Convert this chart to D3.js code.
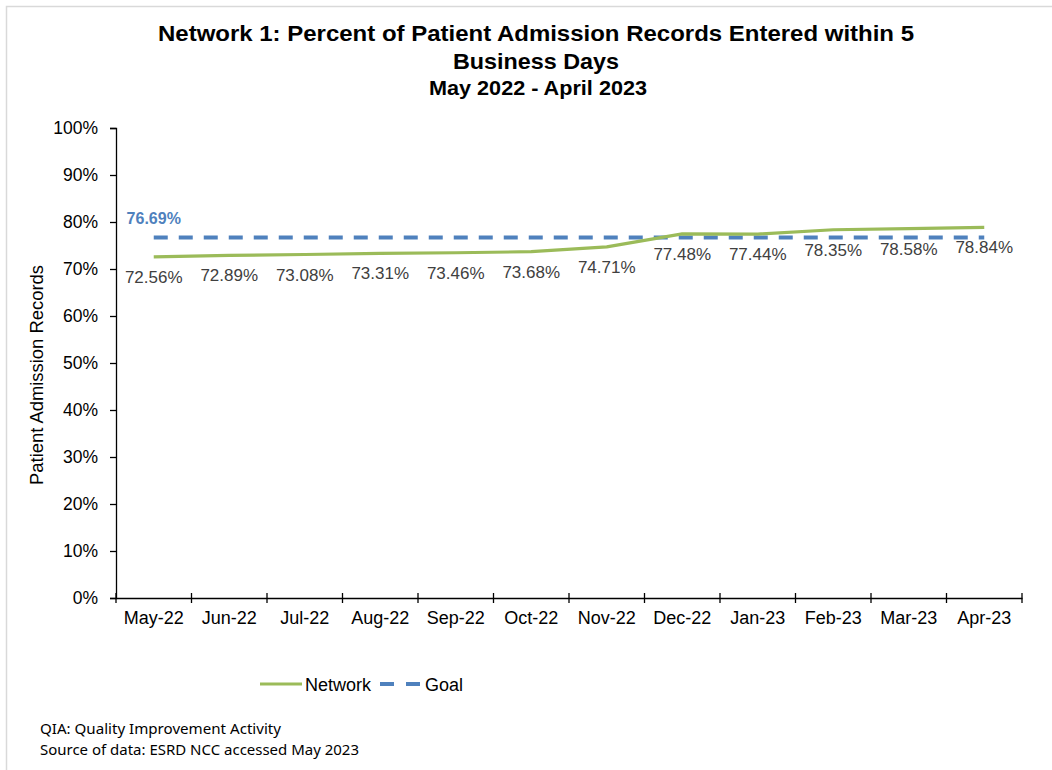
<!DOCTYPE html>
<html>
<head>
<meta charset="utf-8">
<script src="https://cdn.jsdelivr.net/npm/d3@7"></script>
<style>
  html, body { margin: 0; padding: 0; background: #fff; }
  svg { display: block; }
</style>
</head>
<body>
<svg id="chart" width="1052" height="770"></svg>
<script>
const months = ["May-22","Jun-22","Jul-22","Aug-22","Sep-22","Oct-22","Nov-22","Dec-22","Jan-23","Feb-23","Mar-23","Apr-23"];
const networkValues = [72.56, 72.89, 73.08, 73.31, 73.46, 73.68, 74.71, 77.48, 77.44, 78.35, 78.58, 78.84];
const goalValue = 76.69;
const yTicks = [0,10,20,30,40,50,60,70,80,90,100];
const titleLines = ["Network 1: Percent of Patient Admission Records Entered within 5", "Business Days", "May 2022 - April 2023"];
const yAxisTitle = "Patient Admission Records";
const footnotes = ["QIA:  Quality Improvement Activity", "Source of data:  ESRD NCC accessed May 2023"];
const legendItems = ["Network", "Goal"];

const svg = d3.select("#chart");
const green = "#9BBB59", blue = "#4F81BD";
const font = "'Liberation Sans', Arial, sans-serif";

// border
svg.append("rect").attr("x", 6.5).attr("y", 6.5).attr("width", 1100).attr("height", 800)
  .attr("fill", "none").attr("stroke", "#d9d9d9").attr("stroke-width", 1.5);

const m = {left: 116, right: 1022, top: 128, bottom: 598};
const x = d3.scaleBand().domain(months).range([m.left, m.right]);
const y = d3.scaleLinear().domain([0, 100]).range([m.bottom, m.top]);

// title
const tl = svg.append("g").attr("font-family", font).attr("font-weight", "bold").attr("fill", "#000").attr("text-anchor", "middle");
tl.append("text").attr("x", 536).attr("y", 41).attr("font-size", 22).attr("textLength", 756).attr("lengthAdjust", "spacingAndGlyphs").text(titleLines[0]);
tl.append("text").attr("x", 536).attr("y", 69).attr("font-size", 22).attr("textLength", 166).attr("lengthAdjust", "spacingAndGlyphs").text(titleLines[1]);
tl.append("text").attr("x", 538).attr("y", 95).attr("font-size", 21).attr("textLength", 218).attr("lengthAdjust", "spacingAndGlyphs").text(titleLines[2]);

// y axis
const yAxisG = svg.append("g").attr("transform", `translate(${m.left},0)`);
yAxisG.call(d3.axisLeft(y).tickValues(d3.range(0, 101, 2)).tickSize(4).tickFormat(""));
yAxisG.call(d3.axisLeft(y).tickValues(yTicks).tickSize(6).tickPadding(12).tickFormat(d => d + "%"));
yAxisG.selectAll(".domain").attr("stroke", "#000").attr("stroke-width", 1.3);
yAxisG.selectAll(".tick line").attr("stroke", "#000").attr("stroke-width", 1.3);
yAxisG.selectAll(".tick text").attr("font-family", font).attr("font-size", 17.5).attr("fill", "#000");

// x axis
const xAxisG = svg.append("g").attr("transform", `translate(0,${m.bottom})`);
xAxisG.call(d3.axisBottom(x).tickSize(0).tickPadding(13));
xAxisG.selectAll(".domain").attr("stroke", "#000").attr("stroke-width", 1.3);
xAxisG.selectAll(".tick text").attr("font-family", font).attr("font-size", 18).attr("fill", "#000");
const bounds = months.map(mo => x(mo)).concat([x.range()[1]]);
xAxisG.selectAll("line.bt").data(bounds).enter().append("line")
  .attr("x1", d => d).attr("x2", d => d).attr("y1", -5).attr("y2", 5)
  .attr("stroke", "#000").attr("stroke-width", 1.3);

// y axis title
svg.append("text").attr("transform", "translate(43,375) rotate(-90)")
  .attr("text-anchor", "middle").attr("font-family", font).attr("font-size", 17.5)
  .attr("textLength", 220).attr("lengthAdjust", "spacingAndGlyphs")
  .text(yAxisTitle);

const cx = d => x(d) + x.bandwidth() / 2;

// goal line
svg.append("line")
  .attr("x1", cx(months[0])).attr("x2", cx(months[months.length - 1]))
  .attr("y1", y(goalValue)).attr("y2", y(goalValue))
  .attr("stroke", blue).attr("stroke-width", 4).attr("stroke-dasharray", "14,11");

// network line
const line = d3.line().x((d, i) => cx(months[i])).y(d => y(d));
svg.append("path").datum(networkValues).attr("d", line)
  .attr("fill", "none").attr("stroke", green).attr("stroke-width", 3.2).attr("stroke-linejoin", "round");

// data labels
svg.append("g").selectAll("text").data(networkValues).enter().append("text")
  .attr("x", (d, i) => cx(months[i])).attr("y", d => y(d) + 26)
  .attr("text-anchor", "middle").attr("font-family", font).attr("font-size", 17).attr("fill", "#404040")
  .text(d => d.toFixed(2) + "%");

// goal label
svg.append("text").attr("x", cx(months[0])).attr("y", y(goalValue) - 14)
  .attr("text-anchor", "middle").attr("font-family", font).attr("font-size", 16)
  .attr("font-weight", "bold").attr("fill", blue).text(goalValue.toFixed(2) + "%");

// legend
const lg = svg.append("g").attr("font-family", font).attr("font-size", 18).attr("fill", "#000");
lg.append("line").attr("x1", 260).attr("x2", 302).attr("y1", 684).attr("y2", 684).attr("stroke", green).attr("stroke-width", 3.2);
lg.append("text").attr("x", 305).attr("y", 690.5).text(legendItems[0]);
lg.append("line").attr("x1", 380).attr("x2", 421).attr("y1", 684).attr("y2", 684).attr("stroke", blue).attr("stroke-width", 4).attr("stroke-dasharray", "14,12");
lg.append("text").attr("x", 425).attr("y", 690.5).text(legendItems[1]);

// footnotes
const fn = svg.append("g").attr("font-family", "'Noto Sans', 'Open Sans', sans-serif").attr("font-size", 13.5).attr("fill", "#000").style("white-space", "pre");
fn.append("text").attr("x", 40).attr("y", 734).attr("textLength", 241).attr("lengthAdjust", "spacingAndGlyphs").text(footnotes[0]);
fn.append("text").attr("x", 40).attr("y", 755).attr("textLength", 319).attr("lengthAdjust", "spacingAndGlyphs").text(footnotes[1]);
</script>
</body>
</html>
